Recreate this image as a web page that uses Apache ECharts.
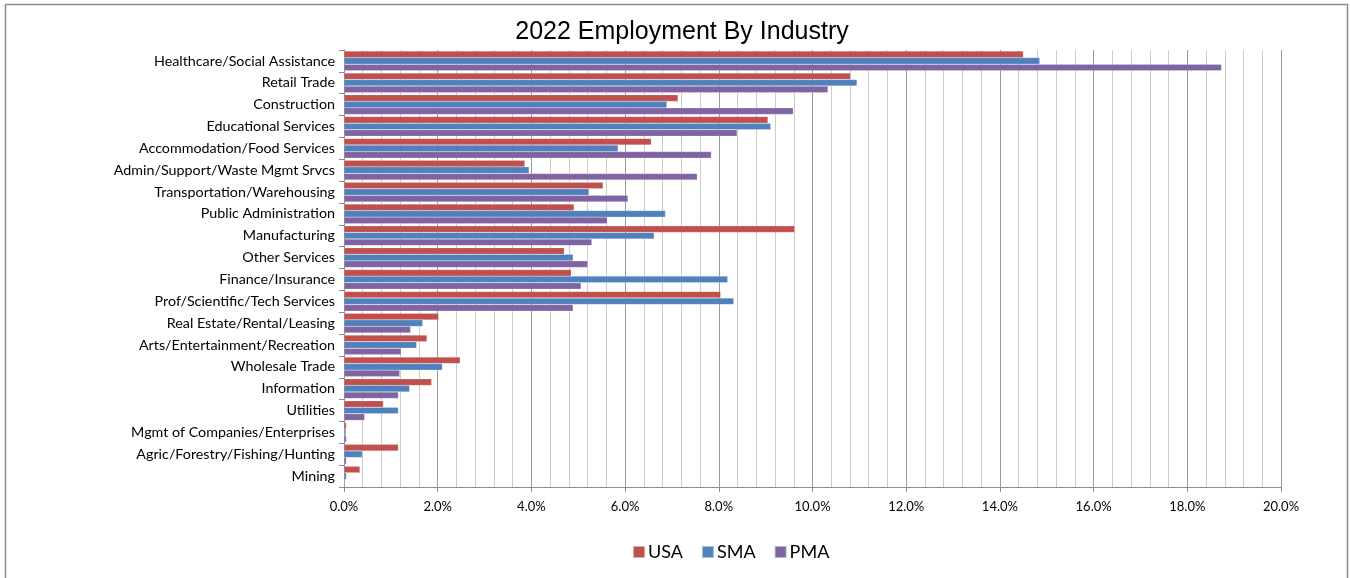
<!DOCTYPE html>
<html>
<head>
<meta charset="utf-8">
<script src="https://cdn.jsdelivr.net/npm/echarts@6/dist/echarts.min.js"></script>
<style>
html,body{margin:0;padding:0;background:#fff;}
#chart{width:1350px;height:578px;}
</style>
</head>
<body>
<div id="chart"></div>
<script>
const categories = [
  "Healthcare/Social Assistance","Retail Trade","Construction","Educational Services",
  "Accommodation/Food Services","Admin/Support/Waste Mgmt Srvcs","Transportation/Warehousing",
  "Public Administration","Manufacturing","Other Services","Finance/Insurance",
  "Prof/Scientific/Tech Services","Real Estate/Rental/Leasing","Arts/Entertainment/Recreation",
  "Wholesale Trade","Information","Utilities","Mgmt of Companies/Enterprises",
  "Agric/Forestry/Fishing/Hunting","Mining"
];
const usa = [14.50,10.81,7.13,9.05,6.56,3.86,5.53,4.91,9.62,4.70,4.85,8.04,2.02,1.77,2.48,1.87,0.84,0.05,1.16,0.34];
const sma = [14.85,10.95,6.89,9.11,5.85,3.95,5.23,6.86,6.62,4.89,8.19,8.32,1.68,1.55,2.10,1.40,1.16,0.04,0.39,0.05];
const pma = [18.73,10.33,9.59,8.39,7.84,7.54,6.06,5.62,5.29,5.20,5.06,4.89,1.42,1.22,1.19,1.16,0.44,0.05,0.05,0.02];
const xTicks = [0,2,4,6,8,10,12,14,16,18,20];

const chart = echarts.init(document.getElementById('chart'));
const font = 'Lato, "Open Sans", sans-serif';
function bar(name, data, color){
  return {
    name, type:'bar', data,
    barCategoryGap:'10%', barGap:'0%',
    itemStyle:{color, borderColor:'rgba(255,255,255,0.5)', borderWidth:0.4},
    emphasis:{disabled:true}
  };
}
chart.setOption({
  animation:false,
  title:{
    text:'2022 Employment By Industry', left:677, top:15, textAlign:'center',
    textStyle:{fontFamily:'"Liberation Sans", Arial, sans-serif', fontSize:25, fontWeight:'normal', color:'#000'}
  },
  graphic:[{
    type:'rect', shape:{x:5.5,y:4.5,width:1342,height:620},
    style:{fill:'none', stroke:'#8c8c8c', lineWidth:1.5}, silent:true, z:-1
  }],
  legend:{
    left:627, top:538, itemWidth:12, itemHeight:12, itemGap:18,
    icon:'rect',
    textStyle:{fontFamily:font, fontSize:18, color:'#000', padding:[0,0,0,-2]},
    data:['USA','SMA','PMA']
  },
  grid:{left:344, right:69, top:50, bottom:91, containLabel:false},
  xAxis:{
    type:'value', min:xTicks[0], max:xTicks[xTicks.length-1], interval:2,
    axisLine:{show:true, lineStyle:{color:'#8c8c8c', width:1}},
    axisTick:{show:true, length:5, lineStyle:{color:'#8c8c8c'}},
    axisLabel:{fontFamily:font, fontSize:13, color:'#000', margin:13,
      formatter:v=>v.toFixed(1)+'%'},
    splitLine:{show:true, lineStyle:{color:'#9a9a9a', width:1}},
    minorTick:{show:false, splitNumber:5},
    minorSplitLine:{show:true, lineStyle:{color:'#cccccc', width:1}}
  },
  yAxis:{
    type:'category', data:categories, inverse:true,
    axisLine:{show:true, lineStyle:{color:'#8c8c8c', width:1}},
    axisTick:{show:true, length:5, lineStyle:{color:'#8c8c8c'}},
    axisLabel:{fontFamily:font, fontSize:14.3, color:'#000', margin:9, padding:[4,0,0,0]},
    splitLine:{show:false}
  },
  series:[bar('USA',usa,'#C0504D'), bar('SMA',sma,'#4F81BD'), bar('PMA',pma,'#8064A2')]
});
</script>
</body>
</html>
